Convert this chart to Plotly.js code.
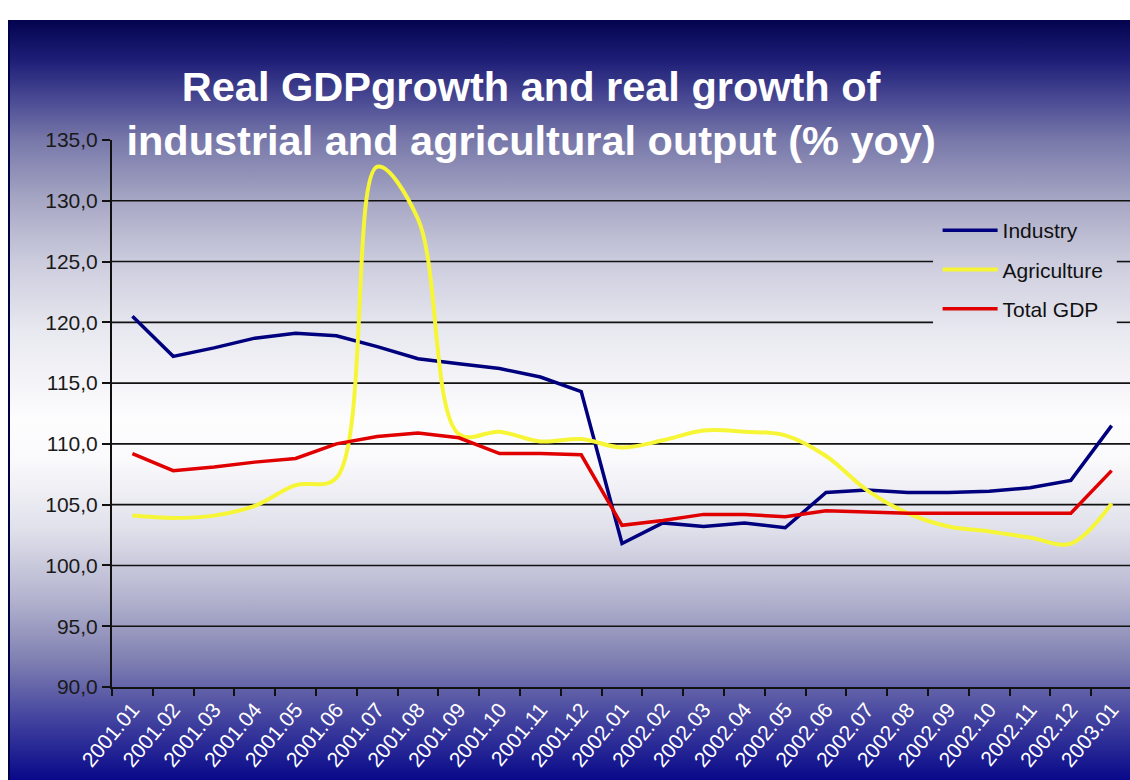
<!DOCTYPE html>
<html><head><meta charset="utf-8">
<script src="https://cdn.plot.ly/plotly-3.0.1.min.js"></script>
<style>
html,body{margin:0;padding:0;background:#fff;width:1130px;height:780px;overflow:hidden;}
#bg{position:absolute;left:8px;top:20px;width:1122px;height:760px;border-left:2px solid #00004a;box-sizing:border-box;
background:linear-gradient(to bottom,#03034f 0%,#1e1e78 5.3%,#4a4a94 10.5%,#7878aa 15.8%,#a6a6c4 23.7%,#cbcbdd 31.6%,#e8e8f0 40.8%,#fdfdfe 52.6%,#fafafc 57.9%,#e0e0eb 67.1%,#b2b2ce 76.3%,#8080b2 84.2%,#42429f 92.1%,#08088a 100%);}
#chart{position:absolute;left:0;top:0;width:1130px;height:780px;}
</style></head>
<body><div id="bg"></div><div id="chart"></div>
<script>
const months = ["2001.01","2001.02","2001.03","2001.04","2001.05","2001.06","2001.07","2001.08","2001.09","2001.10","2001.11","2001.12",
  "2002.01","2002.02","2002.03","2002.04","2002.05","2002.06","2002.07","2002.08","2002.09","2002.10","2002.11","2002.12","2003.01"];
const industry = [120.5,117.2,117.9,118.7,119.1,118.9,118.0,117.0,116.6,116.2,115.5,114.3,
  101.8,103.5,103.2,103.5,103.1,106.0,106.2,106.0,106.0,106.1,106.4,107.0,111.5];
const agriculture = [104.1,103.9,104.1,104.9,106.6,107.2,132.8,128.5,110.8,111.0,110.2,110.4,
  109.7,110.3,111.1,111.0,110.7,109.0,106.2,104.3,103.2,102.8,102.3,101.8,105.1];
const totalGDP = [109.2,107.8,108.1,108.5,108.8,110.0,110.6,110.9,110.5,109.2,109.2,109.1,
  103.3,103.7,104.2,104.2,104.0,104.5,104.4,104.3,104.3,104.3,104.3,104.3,107.8];
const yTicks = [90,95,100,105,110,115,120,125,130,135];
const gridValues = [95,100,105,110,115,120,125,130];
const legendGapValues = [120,125];

const traces = [
  {x: months, y: industry, name: "Industry", type: "scatter", mode: "lines", legendgroup: "a",
   line: {color: "#00007e", width: 3.5}},
  {x: months, y: agriculture, name: "Agriculture", type: "scatter", mode: "lines", legendgroup: "b",
   line: {color: "#f6f636", width: 4, shape: "spline", smoothing: 1}},
  {x: months, y: totalGDP, name: "Total GDP", type: "scatter", mode: "lines", legendgroup: "c",
   line: {color: "#e00000", width: 3.5}}
];

const gapStart = 0.8065, gapEnd = 0.987;
const shapes = [];
gridValues.forEach(v => {
  const ln = {type: "line", xref: "paper", yref: "y", y0: v, y1: v, layer: "below",
    line: {color: "#111111", width: 1.6}};
  if (legendGapValues.includes(v)) {
    shapes.push(Object.assign({}, ln, {x0: 0, x1: gapStart}));
    shapes.push(Object.assign({}, ln, {x0: gapEnd, x1: 1}));
  } else {
    shapes.push(Object.assign({}, ln, {x0: 0, x1: 1}));
  }
});

const layout = {
  width: 1130, height: 780,
  paper_bgcolor: "rgba(0,0,0,0)", plot_bgcolor: "rgba(0,0,0,0)",
  margin: {l: 112, r: 0, t: 140, b: 93},
  separators: ",.",
  showlegend: true,
  font: {family: "Arial, 'Liberation Sans', sans-serif", color: "#1a1a1a"},
  title: {
    text: "Real GDPgrowth and real growth of<br>industrial and agricultural output (% yoy)",
    font: {family: "Arial, 'Liberation Sans', sans-serif", size: 41.5, color: "#ffffff", weight: "bold"},
    x: 0.47, xanchor: "center", xref: "container", y: 0.87, yanchor: "top", yref: "container"
  },
  xaxis: {
    type: "category", range: [-0.5, 24.45],
    showline: true, linecolor: "#111", linewidth: 2,
    ticks: "outside", tickson: "boundaries", ticklen: 7, tickcolor: "#111", tickwidth: 2,
    tickangle: -50, showgrid: false, zeroline: false,
    tickfont: {size: 21, color: "#ffffff"}
  },
  yaxis: {
    range: [90, 135], tickvals: yTicks, tickformat: ".1f",
    showline: true, linecolor: "#111", linewidth: 2,
    ticks: "outside", ticklen: 8, tickcolor: "#111", tickwidth: 2,
    showgrid: false, zeroline: false,
    tickfont: {size: 21, color: "#1a1a1a"}
  },
  legend: {
    x: 0.811, y: 0.872, xanchor: "left", yanchor: "top",
    bgcolor: "rgba(0,0,0,0)", borderwidth: 0,
    font: {size: 21, color: "#111"},
    itemwidth: 55, traceorder: "grouped", tracegroupgap: 9
  },
  shapes: shapes
};

Plotly.newPlot("chart", traces, layout, {displayModeBar: false, staticPlot: true});
</script>
</body></html>
